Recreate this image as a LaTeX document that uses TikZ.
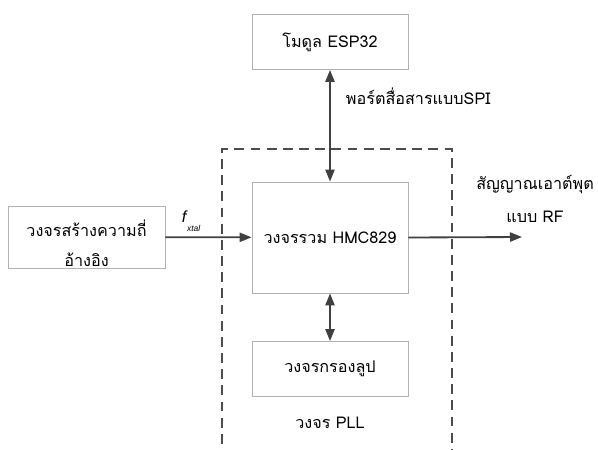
\documentclass[tikz,border=0pt]{standalone}
\usepackage{fontspec}
\newfontfamily\thaifont[Script=Thai]{Loma}
\newfontfamily\latinfont{Liberation Sans}
\usetikzlibrary{arrows.meta}

\begin{document}
\begin{tikzpicture}[x=0.025cm,y=-0.025cm,
  font=\thaifont\fontsize{11.5}{14}\selectfont,
  blockbox/.style={draw=black!30,line width=0.6pt,minimum width=3.9cm,minimum height=1.375cm,inner sep=0pt},
  sigline/.style={draw=black!75,line width=1.3pt,-{Triangle[length=3mm,width=2.3mm]}},
  bothline/.style={draw=black!75,line width=1.3pt,{Triangle[length=3mm,width=2.3mm]}-{Triangle[length=3mm,width=2.3mm]}}]
\useasboundingbox (0,0) rectangle (598,449);
\clip (0,0) rectangle (598,449);

% PLL area
\draw[black!70,line width=0.9pt,dash pattern=on 7pt off 4.5pt] (222,460) -- (222,149) -- (452,149) -- (452,460);
\node (pll) at (330,423) {วงจร PLL};

% blocks
\node[blockbox] (esp) at (330,42) {โมดูล ESP32};
\node[blockbox,minimum height=2.775cm] (hmc) at (330,237.5) {วงจรรวม HMC829};
\node[blockbox] (filt) at (330,369) {วงจรกรองลูป};
\node[blockbox,minimum width=3.925cm,minimum height=1.55cm] (ref) at (86.5,237) {};
\node[align=center,font=\thaifont\fontsize{11.5}{21.5}\selectfont] (reftext) at (86.5,243) {วงจรสร้างความถี่\\อ้างอิง};
\coordinate (rfout) at (522,237);

% connections
\draw[sigline] (ref) -- (hmc);
\node (fxtal) at (191,221) {\latinfont\itshape f\kern0.5pt\raisebox{-6pt}{\fontsize{6}{7}\selectfont xtal}};
\draw[bothline] (esp) -- (hmc);
\node[anchor=west] (spi) at (341,96) {พอร์ตสื่อสารแบบSPI};
\draw[bothline] (hmc) -- (filt);
\draw[sigline] (hmc.east) -- (rfout);
\node[align=center,font=\thaifont\fontsize{11.5}{23}\selectfont] (rflabel) at (535,199) {สัญญาณเอาต์พุต\\แบบ RF};
\end{tikzpicture}
\end{document}
